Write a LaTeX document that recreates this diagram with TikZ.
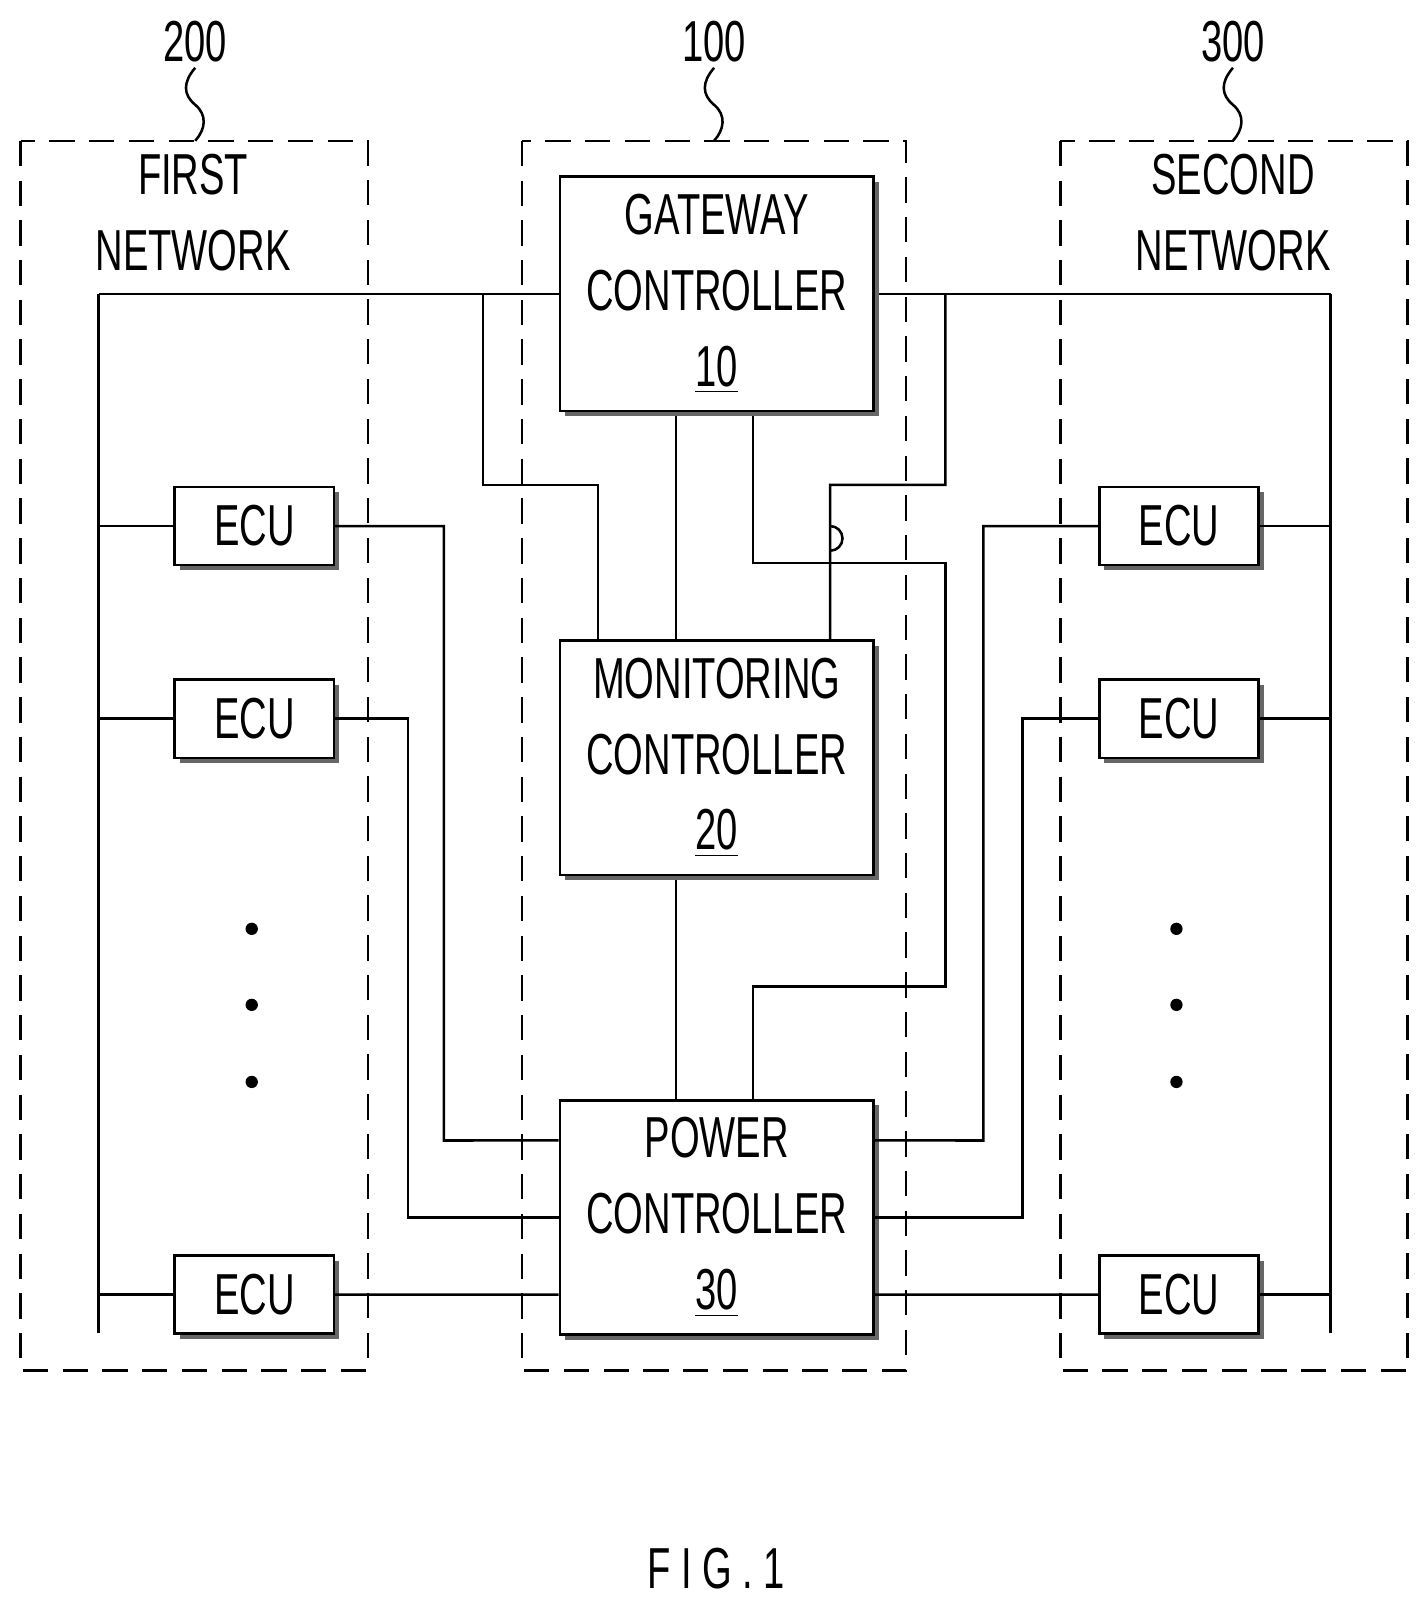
\documentclass[tikz,border=0pt]{standalone}
\usepackage{fontspec}
\setmainfont{Liberation Sans}
\usetikzlibrary{shadows}
\newcommand{\nt}[1]{\scalebox{0.66}[1]{#1}}
\begin{document}
\begin{tikzpicture}[x=0.01cm,y=-0.01cm,line width=0.7pt,
  blk/.style={draw,fill=white,minimum width=3.05cm,minimum height=2.28cm,align=center,font=\fontsize{16}{21}\selectfont,
    drop shadow={shadow xshift=0.05cm,shadow yshift=-0.05cm,fill=black!60,opacity=1}},
  ecu/.style={draw,fill=white,minimum width=1.55cm,minimum height=0.76cm,font=\fontsize{16}{20}\selectfont,
    drop shadow={shadow xshift=0.05cm,shadow yshift=-0.05cm,fill=black!60,opacity=1}},
  net/.style={draw,dashed,dash pattern=on 7pt off 4pt},
  lbl/.style={font=\fontsize{16}{21}\selectfont,align=center}]
\useasboundingbox (0,0) rectangle (1389,1566);

% dashed regions
\draw [net] (20,137) rectangle (358,1334);
\draw [net] (508,137) rectangle (882,1334);
\draw [net] (1032,137) rectangle (1370,1334);
\node [lbl] (n200) at (190,40) {\nt{200}};
\node [lbl] (n100) at (695,40) {\nt{100}};
\node [lbl] (n300) at (1200,40) {\nt{300}};
\foreach \x in {190,695,1200}
  \draw (\x,66) .. controls (\x-12,80) and (\x-12,92) .. (\x,102) .. controls (\x+12,112) and (\x+10,126) .. (\x,137);
\node [lbl] (net1) at (188,207) {\nt{FIRST}\\\nt{NETWORK}};
\node [lbl] (net2) at (1200,207) {\nt{SECOND}\\\nt{NETWORK}};

% buses
\draw (96,286) -- (96,1297);
\draw (1295,286) -- (1295,1297);
\draw (96,286) -- (545,286);
\draw (850,286) -- (1295,286);
\draw (470,286) -- (470,472) -- (582,472) -- (582,623);
\draw (920,286) -- (920,472) -- (808,472) -- (808,536) arc (90:-90:12) -- (808,623);
\draw (658,403) -- (658,623);
\draw (733,403) -- (733,548) -- (920,548) -- (920,960) -- (733,960) -- (733,1071);
\draw (658,852) -- (658,1071);

% controllers
\node [blk] (gw) at (697.5,286) {\nt{GATEWAY}\\\nt{CONTROLLER}\\\underline{\nt{10}}};
\node [blk] (mon) at (697.5,737.5) {\nt{MONITORING}\\\nt{CONTROLLER}\\\underline{\nt{20}}};
\node [blk] (pwr) at (697.5,1185) {\nt{POWER}\\\nt{CONTROLLER}\\\underline{\nt{30}}};

% ECUs
\node [ecu] (l1) at (247.5,512) {\nt{ECU}};
\node [ecu] (l2) at (247.5,699.5) {\nt{ECU}};
\node [ecu] (l3) at (247.5,1260) {\nt{ECU}};
\node [ecu] (r1) at (1147.5,512) {\nt{ECU}};
\node [ecu] (r2) at (1147.5,699.5) {\nt{ECU}};
\node [ecu] (r3) at (1147.5,1260) {\nt{ECU}};
\foreach \e in {l1,l2,l3} \draw (\e.west) -- (\e.west -| 96,0);
\foreach \e in {r1,r2,r3} \draw (\e.east) -- (\e.east -| 1295,0);
\draw (l1.east) -- (432,512) -- (432,1110) -- ([yshift=0.75cm]pwr.west);
\draw (l2.east) -- (397,699.5) -- (397,1185) -- (pwr.west);
\draw (l3.east) -- ([yshift=-0.75cm]pwr.west);
\draw (r1.west) -- (957,512) -- (957,1110) -- ([yshift=0.75cm]pwr.east);
\draw (r2.west) -- (995,699.5) -- (995,1185) -- (pwr.east);
\draw (r3.west) -- ([yshift=-0.75cm]pwr.east);
\foreach \x in {245,1145} \foreach \y in {904,978,1053}
  \fill (\x,\y) circle (6);

\node [lbl] (fig) at (697,1527) {\nt{F I G . 1}};
\end{tikzpicture}
\end{document}
